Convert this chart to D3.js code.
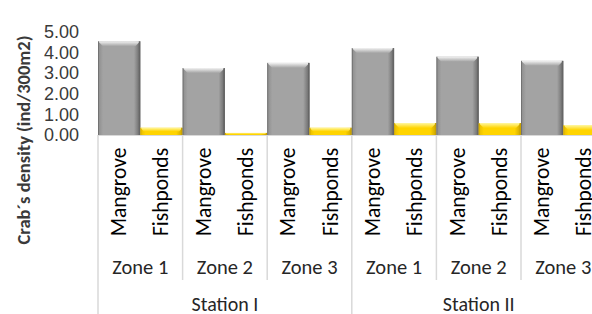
<!DOCTYPE html>
<html>
<head>
<meta charset="utf-8">
<script src="https://cdn.jsdelivr.net/npm/d3@7"></script>
<style>
body { margin: 0; background: #fff; }
svg { display: block; font-family: Carlito, Calibri, Lato, sans-serif; }
</style>
</head>
<body>
<div id="chart"></div>
<script>
// values
var stations = ["Station I", "Station II"];
var zones = ["Zone 1", "Zone 2", "Zone 3"];
var habitats = ["Mangrove", "Fishponds"];
var mangrove = [4.55, 3.25, 3.50, 4.22, 3.80, 3.60];
var fishponds = [0.35, 0.10, 0.35, 0.58, 0.58, 0.48];
var yTicks = [0, 1, 2, 3, 4, 5];

var W = 592, H = 314;
var base = 135, top0 = 32, left = 98, right = 605.6;

// flat list of bars, station -> zone -> habitat
var data = [];
stations.forEach(function(s, si){
  zones.forEach(function(z, zi){
    var k = si * zones.length + zi;
    data.push({key: s + z + "M", station: s, zone: z, hab: habitats[0], v: mangrove[k]});
    data.push({key: s + z + "F", station: s, zone: z, hab: habitats[1], v: fishponds[k]});
  });
});

var x = d3.scaleBand().domain(data.map(function(d){ return d.key; })).range([left, right]).padding(0);
var y = d3.scaleLinear().domain([0, 5]).range([base, top0]);

var svg = d3.select("#chart").append("svg").attr("width", W).attr("height", H);
var defs = svg.append("defs");

var pal = {
  Mangrove: {body: "#a3a3a3", light: "#f2f2f2", side: "#8c8c8c", dark: "#666666"},
  Fishponds: {body: "#ffd400", light: "#fff7a0", side: "#e6bb00", dark: "#c9a200"}
};
habitats.forEach(function(h){
  var g = defs.append("linearGradient").attr("id", "top" + h).attr("x1", 0).attr("y1", 0).attr("x2", 0).attr("y2", 1);
  g.append("stop").attr("offset", 0).attr("stop-color", pal[h].light);
  g.append("stop").attr("offset", 1).attr("stop-color", pal[h].body);
  var b = defs.append("linearGradient").attr("id", "body" + h).attr("x1", 0).attr("y1", 0).attr("x2", 1).attr("y2", 0);
  b.append("stop").attr("offset", 0).attr("stop-color", pal[h].side);
  b.append("stop").attr("offset", 0.12).attr("stop-color", pal[h].body);
  b.append("stop").attr("offset", 0.85).attr("stop-color", pal[h].body);
  b.append("stop").attr("offset", 1).attr("stop-color", pal[h].dark);
});

// bars with a small bevel
var bars = svg.append("g").selectAll("g").data(data).enter().append("g");
bars.append("rect")
  .attr("x", function(d){ return x(d.key); })
  .attr("y", function(d){ return y(d.v); })
  .attr("width", x.bandwidth())
  .attr("height", function(d){ return base - y(d.v); })
  .attr("fill", function(d){ return "url(#body" + d.hab + ")"; });
bars.append("path")
  .attr("d", function(d){
    var x0 = x(d.key), x1 = x0 + x.bandwidth(), t = y(d.v);
    var b = Math.min(5, (base - t) / 2);
    return "M" + x0 + "," + t + "L" + x1 + "," + t + "L" + (x1 - b) + "," + (t + b) + "L" + (x0 + b) + "," + (t + b) + "Z";
  })
  .attr("fill", function(d){ return "url(#top" + d.hab + ")"; });
bars.append("rect")
  .attr("x", function(d){ return x(d.key) + x.bandwidth() - 1.5; })
  .attr("y", function(d){ return y(d.v); })
  .attr("width", 1.5)
  .attr("height", function(d){ return base - y(d.v); })
  .attr("fill", function(d){ return pal[d.hab].dark; });
bars.append("rect")
  .attr("x", function(d){ return x(d.key); })
  .attr("y", function(d){ return y(d.v); })
  .attr("width", 1)
  .attr("height", function(d){ return base - y(d.v); })
  .attr("fill", function(d){ return pal[d.hab].dark; })
  .attr("opacity", 0.7);

// baseline
svg.append("line").attr("x1", left).attr("x2", right).attr("y1", base + 0.5).attr("y2", base + 0.5)
  .attr("stroke", "#d9d9d9").attr("stroke-width", 1);

// y axis labels
var yAxis = d3.axisLeft(y).tickValues(yTicks).tickFormat(d3.format(".2f")).tickSize(0).tickPadding(0);
var ya = svg.append("g").attr("transform", "translate(79,0)").call(yAxis);
ya.select(".domain").remove();
ya.selectAll("text").style("font-size", "18px").style("fill", "#3a3a3a").attr("font-family", null);

svg.append("text")
  .attr("transform", "translate(23,140) rotate(-90)")
  .attr("text-anchor", "middle").attr("dominant-baseline", "central")
  .style("font-size", "18.5px").style("font-weight", "bold").style("fill", "#3a3a3a")
  .text("Crab\u00b4s density (ind/300m2)");

// category separators
var sep = svg.append("g").attr("stroke", "#d9d9d9").attr("stroke-width", 1.5);
data.forEach(function(d, i){
  if (i % 2 !== 0) return;
  var edge = i % (habitats.length * zones.length) === 0;
  sep.append("line").attr("x1", x(d.key)).attr("x2", x(d.key))
    .attr("y1", base).attr("y2", edge ? H : 280);
});
sep.append("line").attr("x1", right).attr("x2", right).attr("y1", base).attr("y2", H);

// habitat labels
svg.append("g").selectAll("text").data(data).enter().append("text")
  .attr("transform", function(d){ return "translate(" + (x(d.key) + x.bandwidth() / 2) + ",192) rotate(-90)"; })
  .attr("text-anchor", "middle").attr("dominant-baseline", "central")
  .style("font-size", "21.5px").style("fill", "#000")
  .text(function(d){ return d.hab; });

// zone labels
svg.append("g").selectAll("text").data(data.filter(function(d, i){ return i % 2 === 0; })).enter().append("text")
  .attr("x", function(d){ return x(d.key) + x.bandwidth(); })
  .attr("y", 267)
  .attr("text-anchor", "middle").attr("dominant-baseline", "central")
  .style("font-size", "20.5px").style("fill", "#262626")
  .text(function(d){ return d.zone; });

// station labels
svg.append("g").selectAll("text").data(stations).enter().append("text")
  .attr("x", function(s, si){
    var n = habitats.length * zones.length;
    return x(data[si * n].key) + x.bandwidth() * n / 2;
  })
  .attr("y", 304)
  .attr("text-anchor", "middle").attr("dominant-baseline", "central")
  .style("font-size", "20px").style("fill", "#262626")
  .text(function(s){ return s; });
</script>
</body>
</html>
